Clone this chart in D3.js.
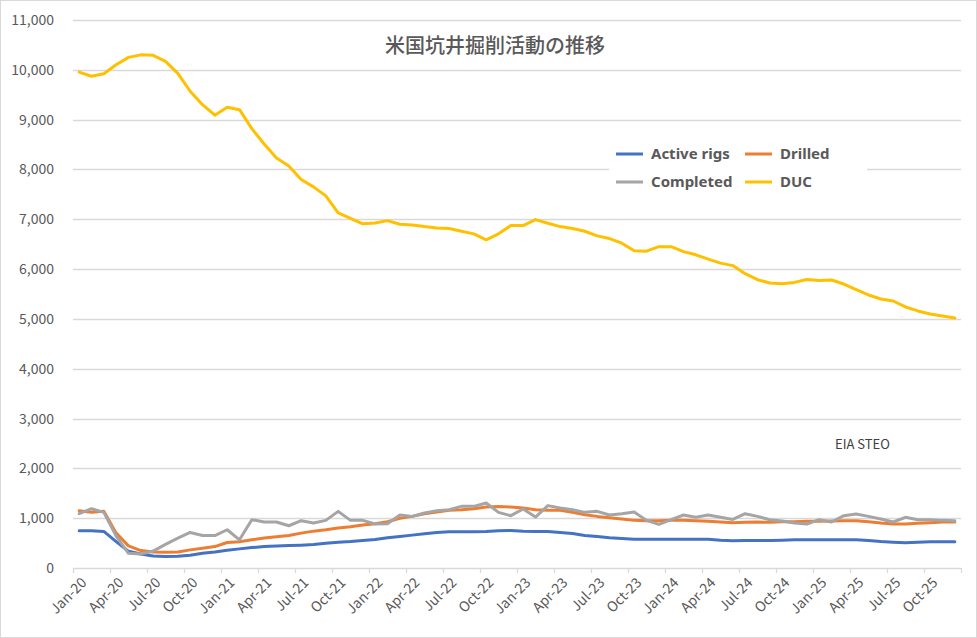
<!DOCTYPE html>
<html>
<head>
<meta charset="utf-8">
<script src="https://cdn.jsdelivr.net/npm/d3@7"></script>
<style>
  html, body { margin: 0; padding: 0; background: #fff; }
  svg { display: block; font-family: "Noto Sans CJK JP", "Noto Sans", sans-serif; }
</style>
</head>
<body>
<svg id="chart" width="977" height="638"></svg>
<script>
const title = "米国坑井掘削活動の推移";
const note = "EIA STEO";
const seriesNames = ["Active rigs", "Drilled", "Completed", "DUC"];
const seriesColors = ["#4472C4", "#ED7D31", "#A5A5A5", "#FFC000"];
const yTicks = [0, 1000, 2000, 3000, 4000, 5000, 6000, 7000, 8000, 9000, 10000, 11000];

const months = [
  "Jan-20","Feb-20","Mar-20","Apr-20","May-20","Jun-20","Jul-20","Aug-20","Sep-20","Oct-20","Nov-20","Dec-20",
  "Jan-21","Feb-21","Mar-21","Apr-21","May-21","Jun-21","Jul-21","Aug-21","Sep-21","Oct-21","Nov-21","Dec-21",
  "Jan-22","Feb-22","Mar-22","Apr-22","May-22","Jun-22","Jul-22","Aug-22","Sep-22","Oct-22","Nov-22","Dec-22",
  "Jan-23","Feb-23","Mar-23","Apr-23","May-23","Jun-23","Jul-23","Aug-23","Sep-23","Oct-23","Nov-23","Dec-23",
  "Jan-24","Feb-24","Mar-24","Apr-24","May-24","Jun-24","Jul-24","Aug-24","Sep-24","Oct-24","Nov-24","Dec-24",
  "Jan-25","Feb-25","Mar-25","Apr-25","May-25","Jun-25","Jul-25","Aug-25","Sep-25","Oct-25","Nov-25","Dec-25"
];

const activeRigs = [
  750, 750, 735, 530, 335, 280, 243, 230, 237, 255, 296, 323,
  357, 384, 410, 430, 443, 450, 458, 471, 498, 518, 532, 552,
  572, 606, 633, 660, 687, 714, 727, 727, 727, 734, 747, 754,
  740, 733, 733, 713, 693, 653, 633, 606, 592, 579, 579, 579,
  579, 579, 579, 579, 559, 545, 552, 552, 552, 559, 566, 566,
  566, 566, 566, 566, 552, 532, 518, 505, 518, 525, 525, 525
];
const drilled = [
  1151, 1117, 1140, 700, 444, 350, 323, 316, 323, 364, 397, 430,
  511, 525, 565, 600, 626, 652, 700, 740, 767, 801, 828, 862,
  889, 929, 996, 1036, 1090, 1124, 1158, 1170, 1191, 1225, 1232, 1225,
  1205, 1171, 1158, 1158, 1117, 1070, 1036, 1010, 983, 956, 950, 950,
  956, 956, 950, 936, 923, 910, 916, 923, 916, 929, 929, 936,
  936, 943, 950, 950, 929, 902, 882, 882, 896, 909, 923, 923
];
const completed = [
  1090, 1190, 1117, 640, 296, 280, 340, 475, 600, 713, 652, 652,
  768, 566, 970, 923, 923, 848, 950, 902, 956, 1137, 956, 956,
  882, 889, 1064, 1036, 1104, 1151, 1170, 1238, 1238, 1306, 1117, 1050,
  1185, 1023, 1252, 1205, 1171, 1117, 1137, 1064, 1090, 1124, 956, 875,
  970, 1064, 1017, 1064, 1017, 975, 1090, 1036, 970, 943, 902, 882,
  970, 923, 1050, 1084, 1036, 983, 923, 1017, 970, 970, 956, 950
];
const duc = [
  9954, 9870, 9920, 10100, 10250, 10300, 10290, 10170, 9930, 9570, 9300, 9090,
  9250, 9200, 8820, 8510, 8230, 8070, 7800, 7650, 7470, 7130, 7020, 6910,
  6927, 6973, 6900, 6887, 6853, 6827, 6813, 6760, 6707, 6587, 6707, 6873,
  6873, 6993, 6920, 6853, 6813, 6760, 6667, 6613, 6520, 6367, 6360, 6450,
  6450, 6350, 6287, 6200, 6120, 6070, 5907, 5787, 5720, 5707, 5733, 5790,
  5770, 5780, 5700, 5587, 5480, 5400, 5360, 5240, 5160, 5100, 5060, 5020
];
const seriesValues = [activeRigs, drilled, completed, duc];

const svg = d3.select("#chart");
const W = 977, H = 638;
const plotLeft = 73, plotRight = 961, plotTop = 20, plotBottom = 568;
const textColor = "#595959";
const gridColor = "#D9D9D9";

svg.append("rect").attr("x", 0.5).attr("y", 0.5).attr("width", W - 1).attr("height", H - 1)
  .attr("fill", "#fff").attr("stroke", gridColor);

const x = d3.scaleBand().domain(months).range([plotLeft, plotRight]).paddingInner(0).paddingOuter(0);
const y = d3.scaleLinear().domain([0, 11000]).range([plotBottom, plotTop]);
const cx = m => x(m) + x.bandwidth() / 2;

// gridlines
svg.append("g").selectAll("line").data(yTicks.filter(t => t > 0)).join("line")
  .attr("x1", plotLeft).attr("x2", plotRight)
  .attr("y1", d => Math.round(y(d)) + 0.5).attr("y2", d => Math.round(y(d)) + 0.5)
  .attr("stroke", gridColor).attr("stroke-width", 1.3);

// y axis labels
const yAxis = d3.axisLeft(y).tickValues(yTicks).tickSize(0).tickPadding(19)
  .tickFormat(d3.format(","));
const gy = svg.append("g").attr("transform", `translate(${plotLeft},0)`).call(yAxis);
gy.select(".domain").remove();
gy.selectAll("text").attr("fill", textColor).style("font-size", "14px")
  .style("font-family", '"Noto Sans CJK JP", "Noto Sans", sans-serif');

// x axis line + ticks
const tickMonths = months.filter((m, i) => i % 3 === 0);
const gx = svg.append("g");
gx.append("line").attr("x1", plotLeft).attr("x2", plotRight)
  .attr("y1", plotBottom + 0.5).attr("y2", plotBottom + 0.5).attr("stroke", gridColor).attr("stroke-width", 1.3);
const tickPos = tickMonths.map(m => x(m)).concat([plotRight]);
gx.selectAll("line.tk").data(tickPos).join("line").attr("class", "tk")
  .attr("x1", d => Math.round(d) + 0.5).attr("x2", d => Math.round(d) + 0.5)
  .attr("y1", plotBottom).attr("y2", plotBottom + 5).attr("stroke", gridColor).attr("stroke-width", 1.3);
gx.selectAll("text").data(tickMonths).join("text")
  .attr("transform", d => `translate(${cx(d) + 3},${plotBottom + 10}) rotate(-45)`)
  .attr("text-anchor", "end").attr("dy", "0.55em")
  .attr("fill", textColor).style("font-size", "14px")
  .text(d => d);

// lines
const line = d3.line().x((d, i) => cx(months[i])).y(d => y(d));
svg.append("g").selectAll("path").data(seriesValues).join("path")
  .attr("d", d => line(d))
  .attr("fill", "none")
  .attr("stroke", (d, i) => seriesColors[i])
  .attr("stroke-width", 3)
  .attr("stroke-linejoin", "round")
  .attr("stroke-linecap", "round");

// title
svg.append("text").attr("x", 495).attr("y", 53).attr("text-anchor", "middle")
  .attr("fill", textColor).style("font-size", "20px").style("font-weight", 500)
  .text(title);

// legend
const lg = svg.append("g");
lg.append("rect").attr("x", 609).attr("y", 141).attr("width", 258).attr("height", 56).attr("fill", "#fff");
const legPos = [[616, 154], [745, 154], [616, 182], [745, 182]];
seriesNames.forEach((name, i) => {
  const [lx, ly] = legPos[i];
  lg.append("line").attr("x1", lx).attr("x2", lx + 27).attr("y1", ly).attr("y2", ly)
    .attr("stroke", seriesColors[i]).attr("stroke-width", 3);
  lg.append("text").attr("x", lx + 35).attr("y", ly).attr("dy", "0.36em")
    .attr("fill", textColor).style("font-size", "15px").style("font-weight", 700)
    .style("font-family", '"Noto Sans", "Noto Sans CJK JP", sans-serif')
    .text(name);
});

// note
svg.append("text").attr("x", 835).attr("y", 444).attr("dy", "0.36em")
  .attr("fill", "#404040").style("font-size", "13px").text(note);
</script>
</body>
</html>
